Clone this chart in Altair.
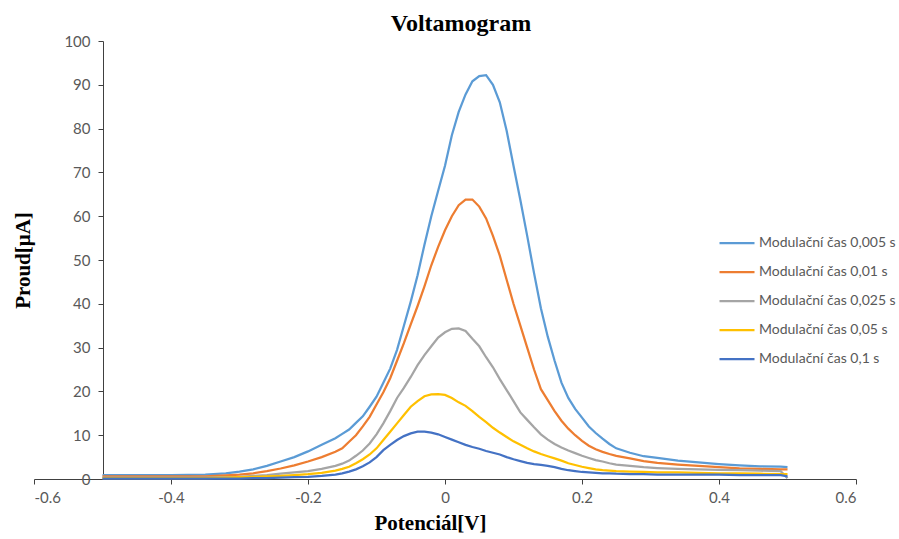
import altair as alt
import pandas as pd

# Potential grid [V]
X = [-0.50, -0.45, -0.40, -0.35, -0.32, -0.30, -0.28, -0.26, -0.24, -0.22, -0.20, -0.18, -0.16,
     -0.15, -0.14, -0.13, -0.12, -0.11, -0.10, -0.09, -0.08, -0.07, -0.06, -0.05, -0.04, -0.03,
     -0.02, -0.01, 0.00, 0.01, 0.02, 0.03, 0.04, 0.05, 0.06, 0.07, 0.08, 0.09, 0.10, 0.11, 0.12,
     0.13, 0.14, 0.15, 0.16, 0.17, 0.18, 0.19, 0.20, 0.21, 0.22, 0.23, 0.24, 0.25,
     0.27, 0.29, 0.31, 0.34, 0.37, 0.40, 0.43, 0.46, 0.49, 0.50]

S_0005 = [0.9, 0.9, 0.9, 1.0, 1.3, 1.7, 2.2, 3.0, 4.0, 5.0, 6.3, 7.8, 9.3,
          10.3, 11.3, 12.8, 14.3, 16.5, 18.8, 22.0, 25.2, 29.5, 35.0, 40.5, 46.5, 53.5,
          60.0, 65.8, 71.5, 78.5, 83.8, 87.8, 90.8, 92.0, 92.2, 90.0, 86.0, 79.5, 71.5, 63.7, 55.5,
          47.0, 39.0, 32.5, 27.0, 22.0, 18.5, 16.0, 14.0, 12.0, 10.5, 9.2, 8.0, 7.0,
          6.0, 5.2, 4.8, 4.2, 3.8, 3.4, 3.1, 2.9, 2.8, 2.7]

S_001 = [0.6, 0.6, 0.6, 0.6, 0.8, 1.0, 1.3, 1.8, 2.4, 3.1, 4.0, 5.0, 6.2,
         7.0, 8.5, 10.0, 12.0, 14.2, 17.0, 19.8, 23.0, 27.0, 31.0, 35.3, 39.5, 44.0,
         48.8, 53.0, 56.8, 60.0, 62.5, 63.8, 63.8, 62.2, 59.5, 55.5, 51.0, 45.5, 40.0, 35.0, 30.0,
         25.0, 20.5, 18.0, 15.5, 13.3, 11.5, 10.0, 8.7, 7.6, 6.8, 6.2, 5.7, 5.3,
         4.7, 4.1, 3.7, 3.3, 3.0, 2.7, 2.4, 2.3, 2.2, 2.2]

S_0025 = [0.3, 0.3, 0.3, 0.3, 0.4, 0.5, 0.7, 0.9, 1.2, 1.5, 1.8, 2.3, 3.0,
          3.5, 4.2, 5.3, 6.5, 8.1, 10.2, 12.7, 15.5, 18.5, 20.8, 23.3, 26.0, 28.3,
          30.3, 32.3, 33.5, 34.3, 34.4, 33.8, 32.0, 30.3, 27.8, 25.5, 22.8, 20.3, 17.8, 15.2, 13.5,
          11.8, 10.2, 9.0, 8.0, 7.2, 6.5, 5.9, 5.3, 4.8, 4.3, 4.0, 3.6, 3.3,
          3.0, 2.7, 2.5, 2.3, 2.2, 2.1, 2.0, 1.9, 1.8, 0.2]

S_005 = [0.2, 0.2, 0.2, 0.2, 0.3, 0.4, 0.5, 0.6, 0.7, 0.9, 1.1, 1.4, 1.9,
         2.3, 2.8, 3.6, 4.5, 5.6, 7.0, 8.9, 10.8, 12.7, 14.6, 16.5, 17.8, 18.9,
         19.3, 19.4, 19.2, 18.5, 17.5, 16.7, 15.5, 14.2, 13.0, 11.7, 10.6, 9.6, 8.6, 7.8, 7.0,
         6.3, 5.7, 5.2, 4.7, 4.2, 3.6, 3.2, 2.8, 2.5, 2.2, 2.0, 1.9, 1.8,
         1.7, 1.6, 1.5, 1.5, 1.4, 1.3, 1.3, 1.2, 1.1, 1.1]

S_01 = [0.1, 0.1, 0.1, 0.1, 0.1, 0.1, 0.2, 0.2, 0.3, 0.4, 0.5, 0.7, 1.0,
        1.3, 1.7, 2.2, 2.9, 3.8, 5.0, 6.6, 7.8, 8.9, 9.8, 10.4, 10.8, 10.8,
        10.6, 10.2, 9.6, 9.0, 8.4, 7.8, 7.3, 6.9, 6.4, 6.0, 5.6, 5.0, 4.5, 4.1, 3.7,
        3.4, 3.2, 3.0, 2.7, 2.3, 2.0, 1.8, 1.6, 1.5, 1.4, 1.3, 1.3, 1.2,
        1.1, 1.1, 1.0, 1.0, 1.0, 1.0, 0.9, 0.9, 0.9, 0.6]

SERIES = ["Modulační čas 0,005 s", "Modulační čas 0,01 s", "Modulační čas 0,025 s",
          "Modulační čas 0,05 s", "Modulační čas 0,1 s"]
COLORS = ["#5B9BD5", "#ED7D31", "#A5A5A5", "#FFC000", "#4472C4"]

rows = []
for name, vals in zip(SERIES, [S_0005, S_001, S_0025, S_005, S_01]):
    for i, (xv, yv) in enumerate(zip(X, vals)):
        rows.append({"x": xv, "y": yv, "series": name, "order": i})
df = pd.DataFrame(rows)

LABEL_FONT = "Lato"
TITLE_FONT = "Liberation Serif"

chart = alt.Chart(df).mark_line(strokeWidth=2.25).encode(
    x=alt.X("x:Q",
            scale=alt.Scale(domain=[-0.6, 0.6], nice=False, zero=False),
            axis=alt.Axis(values=[-0.6, -0.4, -0.2, 0, 0.2, 0.4, 0.6],
                          labelExpr="toString(round(datum.value*10)/10)",
                          title="Potenciál[V]", grid=False,
                          domainColor="#404040", tickColor="#404040", tickSize=5,
                          labelColor="#595959", labelFont=LABEL_FONT, labelFontSize=15,
                          labelPadding=6,
                          titleFont=TITLE_FONT, titleFontSize=21, titleFontWeight="bold",
                          titleColor="#000000", titleX=396, titleY=50,
                          titleBaseline="alphabetic")),
    y=alt.Y("y:Q",
            scale=alt.Scale(domain=[0, 100], nice=False),
            axis=alt.Axis(values=list(range(0, 101, 10)), offset=-69,
                          title="Proud[μA]", grid=False,
                          domainColor="#404040", tickColor="#404040", tickSize=5,
                          labelColor="#595959", labelFont=LABEL_FONT, labelFontSize=15,
                          labelPadding=8,
                          titleFont=TITLE_FONT, titleFontSize=21, titleFontWeight="bold",
                          titleColor="#000000", titleX=-74, titleY=219,
                          titleBaseline="alphabetic")),
    color=alt.Color("series:N",
                    scale=alt.Scale(domain=SERIES, range=COLORS),
                    legend=alt.Legend(title=None, orient="none", legendX=684, legendY=183,
                                      symbolType="stroke", symbolSize=1225,
                                      symbolStrokeWidth=2.25, labelOffset=3,
                                      labelFont=LABEL_FONT, labelFontSize=14,
                                      labelColor="#595959", labelLimit=200,
                                      rowPadding=3)),
    order="order:Q",
).properties(
    width=822, height=438,
    autosize=alt.AutoSizeParams(type="none"),
    padding={"left": 34, "top": 41, "right": 43, "bottom": 60},
    title=alt.TitleParams("Voltamogram", font=TITLE_FONT, fontSize=24, fontWeight="bold",
                          color="#000000", anchor="middle", dx=16, dy=6, offset=4),
).configure(background="white").configure_view(stroke=None)

chart.save("out.html", embed_options={"renderer": "svg", "actions": False})
